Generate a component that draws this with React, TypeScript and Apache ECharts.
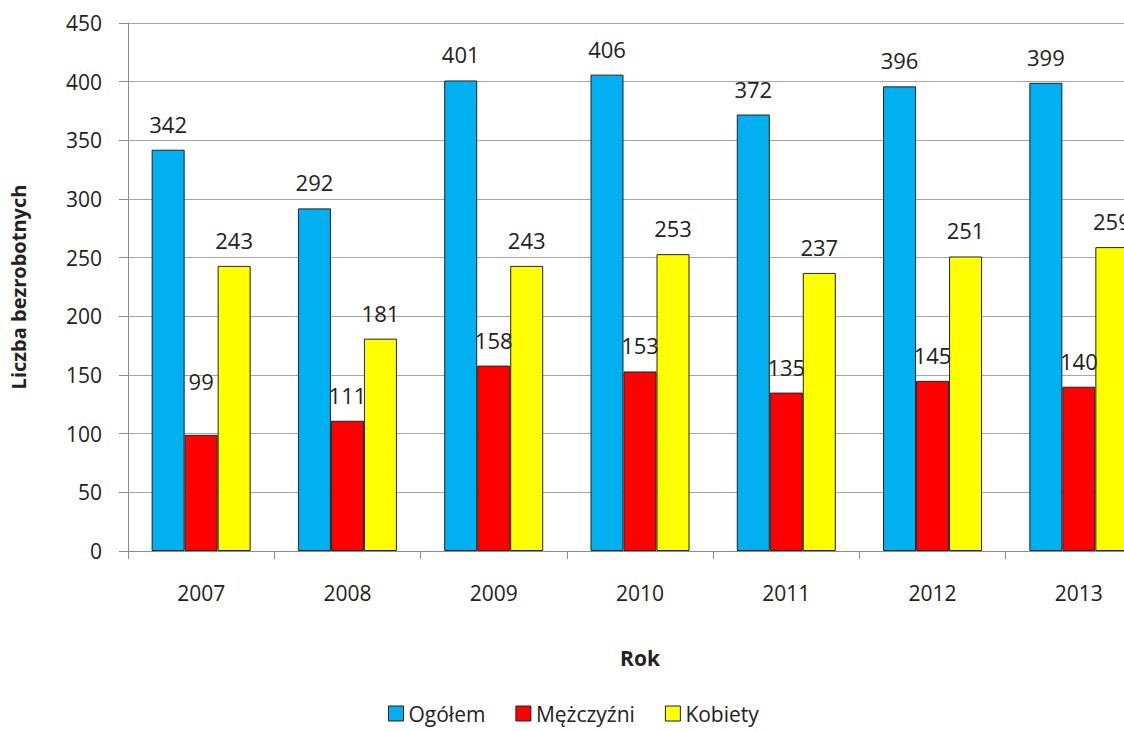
import React, { useEffect, useRef } from "react";
import * as echarts from "echarts";

const years = ["2007", "2008", "2009", "2010", "2011", "2012", "2013"];
const ogolem = [342, 292, 401, 406, 372, 396, 399];
const mezczyzni = [99, 111, 158, 153, 135, 145, 140];
const kobiety = [243, 181, 243, 253, 237, 251, 259];
const seriesNames = ["Ogółem", "Mężczyźni", "Kobiety"];
const colors = ["#00B0F0", "#FF0000", "#FFFF00"];

const FONT = "Open Sans";
const TXT = "#222";

export default function App() {
  const ref = useRef<HTMLDivElement>(null);
  useEffect(() => {
    document.body.style.margin = "0";
    document.body.style.overflow = "hidden";
    const chart = echarts.init(ref.current!, null, { renderer: "svg" });
    const label = {
      show: true,
      position: "top",
      distance: 15,
      fontFamily: FONT,
      fontSize: 22,
      color: TXT,
    };
    const mk = (name: string, data: any[], color: string) => ({
      name,
      type: "bar",
      data,
      barWidth: 33,
      barGap: "0%",
      itemStyle: { color, borderColor: "#222", borderWidth: 1 },
      label,
    });
    const menData = mezczyzni.map((v, i) =>
      i === 0 ? { value: v, label: { offset: [0, -28] } } : v
    );
    chart.setOption({
      animation: false,
      textStyle: { fontFamily: FONT },
      grid: { left: 122, top: 23, width: 1030, height: 528, containLabel: false },
      legend: {
        bottom: 2,
        left: 383,
        itemWidth: 15,
        itemHeight: 15,
        itemGap: 30,
        icon: "rect",
        textStyle: { fontFamily: FONT, fontSize: 21, color: TXT },
        itemStyle: { borderColor: "#222", borderWidth: 1 },
        data: seriesNames,
      },
      xAxis: {
        type: "category",
        data: years,
        name: "Rok",
        nameLocation: "middle",
        nameGap: 96,
        nameTextStyle: { fontFamily: FONT, fontSize: 21, fontWeight: "bold", color: TXT },
        axisLine: { lineStyle: { color: "#8c8c8c", width: 1 } },
        axisTick: { show: true, length: 8, lineStyle: { color: "#8c8c8c" } },
        axisLabel: { fontFamily: FONT, fontSize: 21, color: TXT, margin: 31 },
      },
      yAxis: {
        type: "value",
        min: 0,
        max: 450,
        interval: 50,
        name: "Liczba bezrobotnych",
        nameLocation: "middle",
        nameGap: 100,
        nameTextStyle: { fontFamily: FONT, fontSize: 20, fontWeight: "bold", color: TXT },
        axisLine: { show: true, lineStyle: { color: "#8c8c8c", width: 1 } },
        axisTick: { show: true, length: 9, lineStyle: { color: "#8c8c8c" } },
        axisLabel: { fontFamily: FONT, fontSize: 21, color: TXT, margin: 26 },
        splitLine: { lineStyle: { color: "#a6a6a6", width: 1 } },
      },
      series: [
        mk(seriesNames[0], ogolem, colors[0]),
        mk(seriesNames[1], menData, colors[1]),
        mk(seriesNames[2], kobiety, colors[2]),
      ],
    });
    return () => chart.dispose();
  }, []);
  return (
    <div style={{ width: 1124, height: 731, overflow: "hidden", background: "#fff" }}>
      <div ref={ref} style={{ width: 1200, height: 731 }} />
    </div>
  );
}
